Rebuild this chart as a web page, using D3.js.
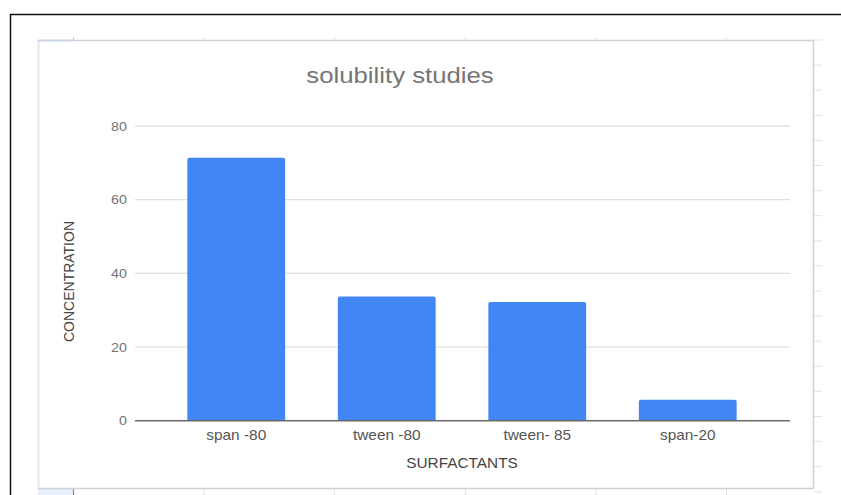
<!DOCTYPE html>
<html>
<head>
<meta charset="utf-8">
<script src="https://cdn.jsdelivr.net/npm/d3@7"></script>
<style>
  html, body { margin: 0; padding: 0; background: #fff; }
  svg { display: block; font-family: "Liberation Sans", Arial, sans-serif; }
</style>
</head>
<body>
<svg id="chart" width="841" height="495"></svg>
<script>
// Surfactant solubility data
const categories = ["span -80", "tween -80", "tween- 85", "span-20"];
const concentration = [71.4, 33.7, 32.2, 5.7];
const yTicks = [0, 20, 40, 60, 80];
const chartTitle = "solubility studies";
const xTitle = "SURFACTANTS";
const yTitle = "CONCENTRATION";

const svg = d3.select("#chart");
const stretch = 1.1; // text is drawn slightly wide

// Sheet background: outer frame and cell grid peeking around the chart box
svg.append("line").attr("x1", 10).attr("x2", 841).attr("y1", 14.5).attr("y2", 14.5)
  .attr("stroke", "#111").attr("stroke-width", 1.5);
svg.append("line").attr("x1", 10.5).attr("x2", 10.5).attr("y1", 14).attr("y2", 495)
  .attr("stroke", "#111").attr("stroke-width", 1.5);

const rowLines = d3.range(0, 19).map(i => 40 + i * 25.1);
svg.selectAll("line.row").data(rowLines).join("line").attr("class", "row")
  .attr("x1", 814).attr("x2", 822).attr("y1", d => d).attr("y2", d => d)
  .attr("stroke", "#e2e2e2").attr("stroke-width", 1);

const colLines = d3.range(0, 6).map(i => 73.5 + i * 130.6);
svg.selectAll("line.colTop").data(colLines).join("line").attr("class", "colTop")
  .attr("x1", d => d).attr("x2", d => d).attr("y1", 37).attr("y2", 40)
  .attr("stroke", (d, i) => i === 0 ? "#a9c4f0" : "#e2e2e2");
svg.append("rect").attr("x", 38).attr("y", 489).attr("width", 35).attr("height", 6)
  .attr("fill", "#e8effc");
svg.selectAll("line.colBot").data(colLines).join("line").attr("class", "colBot")
  .attr("x1", d => d).attr("x2", d => d).attr("y1", 489).attr("y2", 495)
  .attr("stroke", (d, i) => i === 0 ? "#4a7fe0" : "#e2e2e2");

// Chart box
svg.append("rect").attr("x", 38.5).attr("y", 40.5).attr("width", 775).attr("height", 448)
  .attr("fill", "#fff").attr("stroke", "#d2d2d2").attr("stroke-width", 1.6);
svg.append("line").attr("x1", 38.5).attr("x2", 38.5).attr("y1", 41).attr("y2", 488)
  .attr("stroke", "#ececec").attr("stroke-width", 1.6);
svg.append("line").attr("x1", 38).attr("x2", 73).attr("y1", 40.5).attr("y2", 40.5)
  .attr("stroke", "#c7d3ea").attr("stroke-width", 1.6);

// Scales
const y = d3.scaleLinear().domain([0, 80]).range([420.7, 126]);
const x = d3.scaleBand().domain(categories).range([161, 763])
  .paddingInner(0.35).paddingOuter(0.175);
const gridX0 = 135, gridX1 = 790;

// Gridlines
svg.append("g").selectAll("line").data(yTicks.filter(t => t !== 0)).join("line")
  .attr("x1", gridX0).attr("x2", gridX1)
  .attr("y1", d => y(d)).attr("y2", d => y(d))
  .attr("stroke", "#e0e0e0").attr("stroke-width", 1.3);

// Y tick labels
svg.append("g").selectAll("text").data(yTicks).join("text")
  .attr("transform", d => `translate(127,${y(d)}) scale(${stretch},1)`)
  .attr("dy", "0.36em").attr("text-anchor", "end")
  .attr("font-size", 13).attr("fill", "#737373")
  .text(d => d);

// Bars with slightly rounded tops
const r = 2;
svg.append("g").selectAll("path").data(categories).join("path")
  .attr("d", (c, i) => {
    const x0 = x(c), w = x.bandwidth(), yt = y(concentration[i]), yb = y(0);
    return `M${x0},${yb}V${yt + r}Q${x0},${yt} ${x0 + r},${yt}H${x0 + w - r}Q${x0 + w},${yt} ${x0 + w},${yt + r}V${yb}Z`;
  })
  .attr("fill", "#4285f4");

// Baseline
svg.append("line").attr("x1", gridX0).attr("x2", gridX1)
  .attr("y1", y(0)).attr("y2", y(0))
  .attr("stroke", "#6b6b6b").attr("stroke-width", 1.5);

// Category labels
svg.append("g").selectAll("text").data(categories).join("text")
  .attr("transform", c => `translate(${x(c) + x.bandwidth() / 2},440) scale(${stretch},1)`)
  .attr("text-anchor", "middle").attr("font-size", 14).attr("fill", "#555")
  .text(c => c);

// Axis titles
svg.append("text")
  .attr("transform", `translate(462,468) scale(${stretch},1)`)
  .attr("text-anchor", "middle").attr("font-size", 14).attr("fill", "#444")
  .text(xTitle);
svg.append("text")
  .attr("transform", `translate(74,281.5) rotate(-90) scale(1,${stretch})`)
  .attr("text-anchor", "middle").attr("font-size", 14).attr("fill", "#444")
  .text(yTitle);

// Title
svg.append("text")
  .attr("transform", `translate(400,83) scale(1.17,1)`)
  .attr("text-anchor", "middle").attr("font-size", 22).attr("fill", "#757575")
  .text(chartTitle);
</script>
</body>
</html>
